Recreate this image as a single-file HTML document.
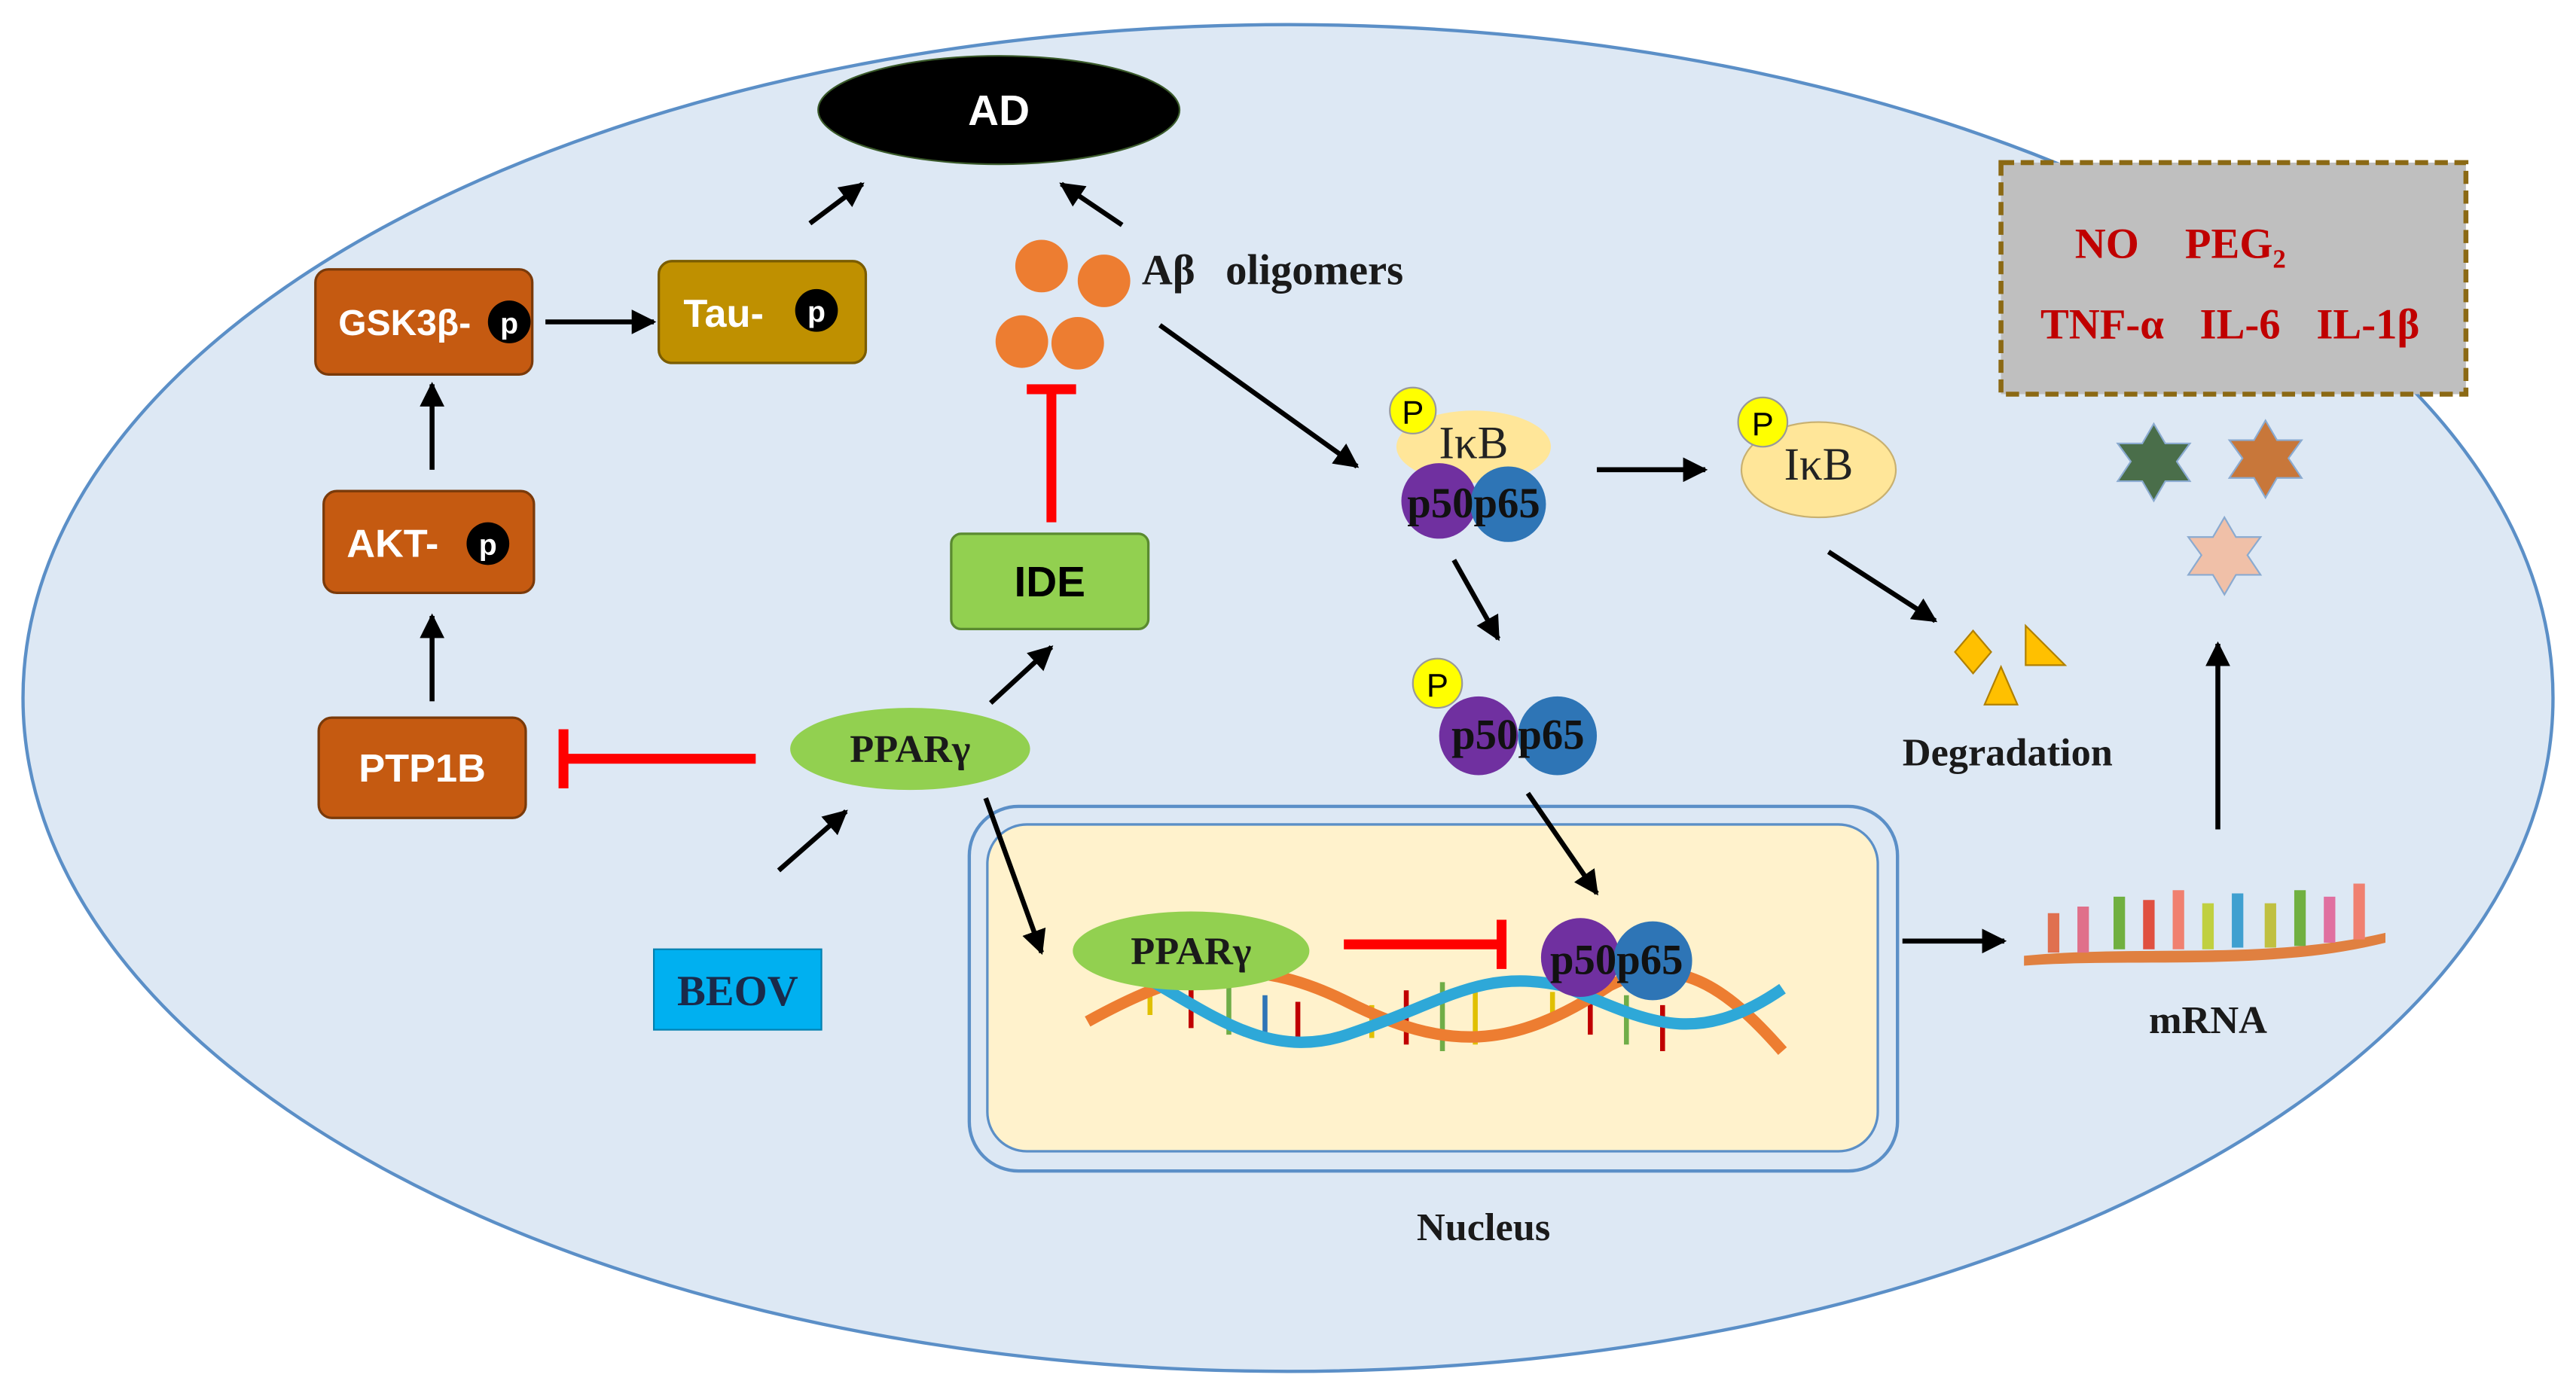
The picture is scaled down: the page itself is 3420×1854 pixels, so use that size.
<!DOCTYPE html>
<html><head><meta charset="utf-8"><style>
html,body{margin:0;padding:0;background:#fff;}
svg{display:block;}
.s{font-family:"Liberation Serif",serif;font-weight:bold;}
.a{font-family:"Liberation Sans",sans-serif;font-weight:bold;}
</style></head><body>
<svg width="3420" height="1854" viewBox="0 0 1568 850" xmlns="http://www.w3.org/2000/svg">
<defs>
<marker id="ar" viewBox="0 0 10 10" refX="9" refY="5" markerWidth="5" markerHeight="5" orient="auto"><path d="M0,0 L10,5 L0,10 z" fill="#000"/></marker>
</defs>
<rect width="1568" height="850" fill="#fff"/>
<ellipse cx="784" cy="425" rx="770" ry="410" fill="#dde8f4" stroke="#5b8fc7" stroke-width="2"/>
<ellipse cx="608" cy="67" rx="110" ry="33" fill="#000" stroke="#3a5a2a" stroke-width="1"/>
<text x="608" y="76" text-anchor="middle" class="a" font-size="26" fill="#fff">AD</text>
<rect x="192" y="164" width="132" height="64" rx="8" fill="#c55a11" stroke="#7a3a0a" stroke-width="1.5"/>
<text x="206" y="204" class="a" font-size="22" fill="#fff">GSK3β-</text>
<circle cx="310" cy="196" r="13" fill="#000"/><text x="310" y="203" text-anchor="middle" class="a" font-size="18" fill="#fff">p</text>
<rect x="401" y="159" width="126" height="62" rx="8" fill="#bf9000" stroke="#7a5c00" stroke-width="1.5"/>
<text x="416" y="199" class="a" font-size="24" fill="#fff">Tau-</text>
<circle cx="497" cy="189" r="13" fill="#000"/><text x="497" y="196" text-anchor="middle" class="a" font-size="18" fill="#fff">p</text>
<rect x="197" y="299" width="128" height="62" rx="8" fill="#c55a11" stroke="#7a3a0a" stroke-width="1.5"/>
<text x="211" y="339" class="a" font-size="24" fill="#fff">AKT-</text>
<circle cx="297" cy="331" r="13" fill="#000"/><text x="297" y="338" text-anchor="middle" class="a" font-size="18" fill="#fff">p</text>
<rect x="194" y="437" width="126" height="61" rx="8" fill="#c55a11" stroke="#7a3a0a" stroke-width="1.5"/>
<text x="257" y="476" text-anchor="middle" class="a" font-size="24" fill="#fff">PTP1B</text>
<rect x="579" y="325" width="120" height="58" rx="6" fill="#92d050" stroke="#5a8a30" stroke-width="1.5"/>
<text x="639" y="363" text-anchor="middle" class="a" font-size="26" fill="#000">IDE</text>
<rect x="398" y="578" width="102" height="49" fill="#00b0f0" stroke="#0080b0" stroke-width="1"/>
<text x="449" y="612" text-anchor="middle" class="s" font-size="26" fill="#1a2a4a">BEOV</text>
<ellipse cx="554" cy="456" rx="73" ry="25" fill="#92d050"/>
<text x="554" y="464" text-anchor="middle" class="s" font-size="24" fill="#1a1a1a">PPARγ</text>
<g fill="#ed7d31"><circle cx="634" cy="162" r="16"/><circle cx="672" cy="171" r="16"/><circle cx="622" cy="208" r="16"/><circle cx="656" cy="209" r="16"/></g>
<text x="695" y="173" class="s" font-size="26" fill="#1a1a1a">Aβ</text>
<text x="746" y="173" class="s" font-size="26" fill="#1a1a1a">oligomers</text>
<rect x="1218" y="99" width="283" height="141" fill="#bfbfbf" stroke="#8b6914" stroke-width="3" stroke-dasharray="8,4"/>
<text x="1263" y="157" class="s" font-size="26" fill="#c00000">NO</text>
<text x="1330" y="157" class="s" font-size="26" fill="#c00000">PEG<tspan font-size="16" dy="6">2</tspan></text>
<text x="1242" y="206" class="s" font-size="26" fill="#c00000">TNF-α</text>
<text x="1339" y="206" class="s" font-size="26" fill="#c00000">IL-6</text>
<text x="1410" y="206" class="s" font-size="26" fill="#c00000">IL-1β</text>
<g>
<polygon points="1311,258 1318,270 1333,270 1325,281 1333,293 1318,293 1311,305 1304,293 1289,293 1297,281 1289,270 1304,270" fill="#4a6e4a" stroke="#8aaad0"/>
<polygon points="1379,256 1386,268 1401,268 1393,279 1401,291 1386,291 1379,303 1372,291 1357,291 1365,279 1357,268 1372,268" fill="#c8773a" stroke="#8aaad0"/>
<polygon points="1354,315 1361,327 1376,327 1368,338 1376,350 1361,350 1354,362 1347,350 1332,350 1340,338 1332,327 1347,327" fill="#f0c0a8" stroke="#8aaad0"/>
</g>
<ellipse cx="897" cy="272" rx="47" ry="22" fill="#ffe699"/>
<text x="897" y="279" text-anchor="middle" font-family="Liberation Serif,serif" font-size="28" fill="#222">IκB</text>
<circle cx="876" cy="305" r="23" fill="#7030a0"/><circle cx="918" cy="307" r="23" fill="#2e75b6"/>
<text x="897" y="315" text-anchor="middle" class="s" font-size="26" fill="#111">p50p65</text>
<circle cx="860" cy="250" r="14" fill="#ffff00" stroke="#999"/><text x="860" y="258" text-anchor="middle" font-family="Liberation Sans,sans-serif" font-size="20">P</text>
<ellipse cx="1107" cy="286" rx="47" ry="29" fill="#ffe699" stroke="#c8b070"/>
<text x="1107" y="292" text-anchor="middle" font-family="Liberation Serif,serif" font-size="28" fill="#222">IκB</text>
<circle cx="1073" cy="257" r="15" fill="#ffff00" stroke="#999"/><text x="1073" y="265" text-anchor="middle" font-family="Liberation Sans,sans-serif" font-size="20">P</text>
<circle cx="900" cy="448" r="24" fill="#7030a0"/><circle cx="948" cy="448" r="24" fill="#2e75b6"/>
<text x="924" y="456" text-anchor="middle" class="s" font-size="26" fill="#111">p50p65</text>
<circle cx="875" cy="416" r="15" fill="#ffff00" stroke="#999"/><text x="875" y="424" text-anchor="middle" font-family="Liberation Sans,sans-serif" font-size="20">P</text>
<polygon points="1201,384 1212,397 1201,410 1190,397" fill="#ffc000" stroke="#b08000"/>
<polygon points="1233,381 1257,405 1233,405" fill="#ffc000" stroke="#b08000"/>
<polygon points="1218,406 1228,429 1208,429" fill="#ffc000" stroke="#b08000"/>
<text x="1222" y="466" text-anchor="middle" class="s" font-size="24" fill="#1a1a1a">Degradation</text>
<rect x="590" y="491" width="565" height="222" rx="30" fill="#dde8f4" stroke="#5b8fc7" stroke-width="2"/>
<rect x="601" y="502" width="542" height="199" rx="24" fill="#fff2cc" stroke="#5b8fc7" stroke-width="1.5"/>
<text x="903" y="755" text-anchor="middle" class="s" font-size="24" fill="#1a1a1a">Nucleus</text>
<g stroke-width="3">
<line x1="700" y1="600" x2="700" y2="618" stroke="#e0c000"/><line x1="725" y1="596" x2="725" y2="626" stroke="#c00000"/>
<line x1="748" y1="598" x2="748" y2="630" stroke="#70ad47"/><line x1="770" y1="606" x2="770" y2="634" stroke="#2e75b6"/>
<line x1="790" y1="610" x2="790" y2="636" stroke="#c00000"/><line x1="835" y1="612" x2="835" y2="632" stroke="#e0c000"/>
<line x1="856" y1="603" x2="856" y2="636" stroke="#c00000"/><line x1="878" y1="598" x2="878" y2="640" stroke="#70ad47"/>
<line x1="898" y1="598" x2="898" y2="636" stroke="#e0c000"/><line x1="945" y1="604" x2="945" y2="622" stroke="#e0c000"/>
<line x1="968" y1="604" x2="968" y2="630" stroke="#c00000"/><line x1="990" y1="606" x2="990" y2="636" stroke="#70ad47"/>
<line x1="1012" y1="612" x2="1012" y2="640" stroke="#c00000"/>
</g>
<path d="M662,622 C720,590 760,580 820,610 C880,640 920,640 980,600 C1020,580 1050,600 1085,640" fill="none" stroke="#ed7d31" stroke-width="7"/>
<path d="M665,580 C720,600 760,650 820,630 C880,610 900,590 950,600 C1000,620 1030,640 1085,602" fill="none" stroke="#2ea8d8" stroke-width="7"/>
<ellipse cx="725" cy="579" rx="72" ry="24" fill="#92d050"/>
<text x="725" y="587" text-anchor="middle" class="s" font-size="24" fill="#1a1a1a">PPARγ</text>
<circle cx="962" cy="583" r="24" fill="#7030a0"/><circle cx="1006" cy="585" r="24" fill="#2e75b6"/>
<text x="984" y="593" text-anchor="middle" class="s" font-size="26" fill="#111">p50p65</text>
<path d="M1232,582 C1300,575 1380,585 1452,568 L1452,574 C1380,592 1300,583 1232,588 z" fill="#e08040"/>
<g stroke-width="7">
<line x1="1250" y1="580" x2="1250" y2="556" stroke="#e07050"/><line x1="1268" y1="580" x2="1268" y2="552" stroke="#e0708a"/>
<line x1="1290" y1="578" x2="1290" y2="546" stroke="#70b040"/><line x1="1308" y1="578" x2="1308" y2="548" stroke="#e05040"/>
<line x1="1326" y1="578" x2="1326" y2="542" stroke="#f08070"/><line x1="1344" y1="578" x2="1344" y2="550" stroke="#c0d040"/>
<line x1="1362" y1="577" x2="1362" y2="544" stroke="#40a0d0"/><line x1="1382" y1="577" x2="1382" y2="550" stroke="#c0c040"/>
<line x1="1400" y1="576" x2="1400" y2="542" stroke="#70b040"/><line x1="1418" y1="574" x2="1418" y2="546" stroke="#e070a0"/>
<line x1="1436" y1="572" x2="1436" y2="538" stroke="#f08070"/>
</g>
<text x="1344" y="629" text-anchor="middle" class="s" font-size="24" fill="#1a1a1a">mRNA</text>
<g stroke="#000" stroke-width="3" fill="none" marker-end="url(#ar)">
<line x1="332" y1="196" x2="398" y2="196"/>
<line x1="493" y1="136" x2="525" y2="112"/>
<line x1="683" y1="137" x2="646" y2="112"/>
<line x1="263" y1="286" x2="263" y2="234"/>
<line x1="263" y1="427" x2="263" y2="375"/>
<line x1="474" y1="530" x2="515" y2="494"/>
<line x1="603" y1="428" x2="640" y2="394"/>
<line x1="600" y1="486" x2="634" y2="580"/>
<line x1="706" y1="198" x2="826" y2="284"/>
<line x1="972" y1="286" x2="1038" y2="286"/>
<line x1="885" y1="341" x2="912" y2="389"/>
<line x1="1113" y1="336" x2="1178" y2="378"/>
<line x1="930" y1="483" x2="972" y2="544"/>
<line x1="1158" y1="573" x2="1220" y2="573"/>
<line x1="1350" y1="505" x2="1350" y2="392"/>
</g>
<g stroke="#ff0000" stroke-width="6" fill="none">
<line x1="460" y1="462" x2="343" y2="462"/><line x1="343" y1="444" x2="343" y2="480"/>
<line x1="640" y1="318" x2="640" y2="237"/><line x1="625" y1="237" x2="655" y2="237"/>
<line x1="818" y1="575" x2="914" y2="575"/><line x1="914" y1="560" x2="914" y2="590"/>
</g>
</svg>
</body></html>
